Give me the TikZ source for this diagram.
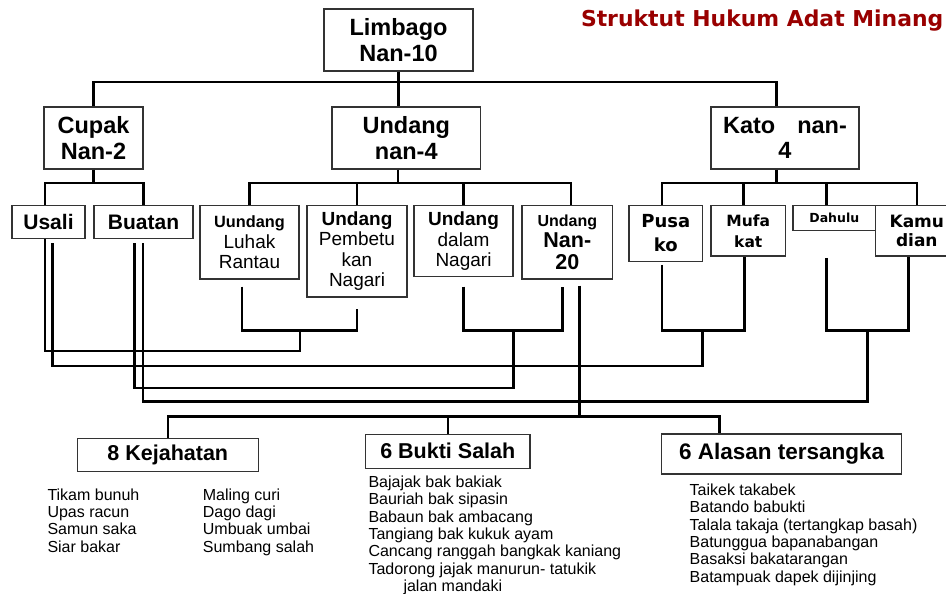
\documentclass[tikz,border=0pt]{standalone}
\usepackage{fontspec}
\setmainfont{Liberation Sans}
\newfontfamily\vfont{DejaVu Sans}
\usetikzlibrary{calc}
\definecolor{titlered}{RGB}{153,0,0}
\begin{document}
\begin{tikzpicture}[x=1pt,y=-1pt,
  box/.style={draw=black!80, line width=1.1pt, inner sep=0pt, align=center, fill=white},
  conn/.style={line width=2.6pt, black},
  lst/.style={anchor=base west, inner sep=0pt, font=\fontsize{16}{17.35}\selectfont},
  bigf/.style={font=\bfseries\fontsize{23.5}{25.7}\selectfont}]
\useasboundingbox (0,0) rectangle (946,594);
\clip (0,0) rectangle (946,594);
\fill[white] (0,0) rectangle (946,594);

% title
\node[anchor=east, inner sep=0pt, text=titlered, font=\vfont\bfseries\fontsize{21.9}{24}\selectfont] (title) at (943.5,20.5) {Struktut Hukum Adat Minang};

% level 1
\node[box, bigf, minimum width=149pt, minimum height=62pt] (limbago) at (398.5,40) {Limbago\\Nan-10};
% level 2
\node[box, bigf, minimum width=99pt, minimum height=62pt] (cupak) at (93.5,138) {Cupak\\Nan-2};
\node[box, bigf, minimum width=148.7pt, minimum height=62pt] (undang4) at (406.3,138) {Undang\\nan-4};
\node[box, bigf, minimum width=148pt, minimum height=62pt] (kato) at (785,138) {Kato\hspace{22pt}nan-\\4};

% level 3
\node[box, font=\bfseries\fontsize{21}{24}\selectfont, minimum width=73pt, minimum height=33pt] (usali) at (48.5,222.2) {Usali};
\node[box, font=\bfseries\fontsize{21}{24}\selectfont, minimum width=99pt, minimum height=33pt] (buatan) at (143.5,222.2) {Buatan};
\node[box, font=\fontsize{19}{20.7}\selectfont, minimum width=99pt, minimum height=73.3pt] (luhak) at (249.5,242.3) {{\bfseries\fontsize{16.3}{20.7}\selectfont Uundang}\\Luhak\\Rantau};
\node[box, font=\fontsize{19}{20.5}\selectfont, minimum width=100pt, minimum height=91.3pt] (pemb) at (357,251.3) {{\bfseries Undang}\\Pembetu\\kan\\Nagari};
\node[box, font=\fontsize{19}{20.5}\selectfont, minimum width=99pt, minimum height=71pt] (dalam) at (463.5,241.2) {{\bfseries Undang}\\dalam\\Nagari};
\node[box, font=\bfseries\fontsize{21.5}{21.3}\selectfont, minimum width=90.7pt, minimum height=73.3pt] (nan20) at (567.3,242.3) {{\fontsize{16}{21.3}\selectfont Undang}\\Nan-\\20};
\node[box, font=\vfont\bfseries\fontsize{18}{24}\selectfont, minimum width=73.7pt, minimum height=55.6pt] (pusako) at (665.8,233.5) {Pusa\\ko};
\node[box, font=\vfont\bfseries\fontsize{15.5}{21}\selectfont, minimum width=74.7pt, minimum height=50.3pt] (mufakat) at (748.3,230.8) {Mufa\\kat};
\node[box, font=\vfont\bfseries\fontsize{12.5}{15}\selectfont, minimum width=82.7pt, minimum height=25pt] (dahulu) at (834.3,218.2) {Dahulu};
\node[box, font=\vfont\bfseries\fontsize{17}{19.5}\selectfont, minimum width=82.3pt, minimum height=50.3pt] (kamudian) at (916.8,230.8) {Kamu\\dian};

% level 4
\node[box, font=\bfseries\fontsize{21.5}{24}\selectfont, minimum width=181pt, minimum height=33.4pt] (kej) at (167.8,455) {8 Kejahatan};
\node[box, font=\bfseries\fontsize{21.5}{24}\selectfont, minimum width=164.3pt, minimum height=34pt] (bukti) at (447.8,451.3) {6 Bukti Salah};
\node[box, font=\bfseries\fontsize{22.5}{24}\selectfont, minimum width=240pt, minimum height=40pt] (alasan) at (781.7,454) {6 Alasan tersangka};

% bus coordinates
\coordinate (bus1) at (398.5,82);
\coordinate (bus2a) at (93.5,183);
\coordinate (bus2b) at (398,183);
\coordinate (bus2c) at (776.7,183);
\coordinate (j1) at (300,330.5);
\coordinate (j2) at (513.3,330.5);
\coordinate (j3) at (702.7,330.5);
\coordinate (j4) at (867.3,330.5);
\coordinate (bus3) at (579.3,416.5);

% top connectors
\draw[conn] (limbago.south) -- (limbago.south |- undang4.north);
\draw[conn] (cupak.north) |- (bus1) -| (kato.north -| bus2c);
% cupak
\draw[conn] (cupak.south) -- (bus2a);
\draw[conn] (usali.north -| 45,0) |- (bus2a) -| (buatan.north);
% undang
\draw[conn] (undang4.south -| bus2b) -- (bus2b);
\draw[conn] (luhak.north) |- (bus2b) -| (nan20.north -| 571,0);
\draw[conn] (pemb.north) |- (bus2b);
\draw[conn] (dalam.north) |- (bus2b);
% kato
\draw[conn] (kato.south -| bus2c) -- (bus2c);
\draw[conn] (pusako.north -| 662,0) |- (bus2c) -| (kamudian.north);
\draw[conn] (mufakat.north -| 743.7,0) |- (bus2c);
\draw[conn] (dahulu.north -| 826.7,0) |- (bus2c);

% lower joiners
\draw[conn] ($(luhak.south -| 242,0)+(0,7)$) |- (j1) -| ($(pemb.south)+(0,11.3)$);
\draw[conn] (j1) -- ++(0,20.5) -| (usali.south -| 45,0);
\draw[conn] ($(dalam.south)+(0,9.3)$) |- (j2) -| ($(nan20.south -| 562.7,0)+(0,7)$);
\draw[conn] (j2) -- ++(0,57.5) -| ($(buatan.south -| 134.7,0)+(0,3.6)$);
\draw[conn] ($(pusako.south -| 662,0)+(0,3)$) |- (j3) -| (mufakat.south -| 744.3,0);
\draw[conn] (j3) -- ++(0,35.5) -| ($(usali.south -| 52.7,0)+(0,3.3)$);
\draw[conn] ($(dahulu.south -| 826.7,0)+(0,26.6)$) |- (j4) -| (kamudian.south -| 908.3,0);
\draw[conn] (j4) -- ++(0,71.2) -| ($(buatan.south -| 143,0)+(0,3.6)$);

% bottom bus
\draw[conn] ($(nan20.south -| bus3)+(0,6)$) -- (bus3);
\draw[conn] (kej.north) |- (bus3) -| (alasan.north -| 719.3,0);
\draw[conn] (bukti.north) |- (bus3);

% lists
\foreach \t [count=\i] in {Tikam bunuh, Upas racun, Samun saka, Siar bakar}
  \node[lst] (ka\i) at (47.3,{500+17.35*(\i-1)}) {\t};
\foreach \t [count=\i] in {Maling curi, Dago dagi, Umbuak umbai, Sumbang salah}
  \node[lst] (kb\i) at (202.7,{500+17.35*(\i-1)}) {\t};
\foreach \t [count=\i] in {Bajajak bak bakiak, Bauriah bak sipasin, Babaun bak ambacang, Tangiang bak kukuk ayam, Cancang ranggah bangkak kaniang, Tadorong jajak manurun- tatukik}
  \node[lst] (bs\i) at (368.3,{487.3+17.35*(\i-1)}) {\t};
\node[lst] (bs7) at (403.3,591.3) {jalan mandaki};
\foreach \t [count=\i] in {Taikek takabek, Batando babukti, Talala takaja (tertangkap basah), Batunggua bapanabangan, Basaksi bakatarangan, Batampuak dapek dijinjing}
  \node[lst] (al\i) at (689.5,{495.3+17.35*(\i-1)}) {\t};
\end{tikzpicture}
\end{document}
